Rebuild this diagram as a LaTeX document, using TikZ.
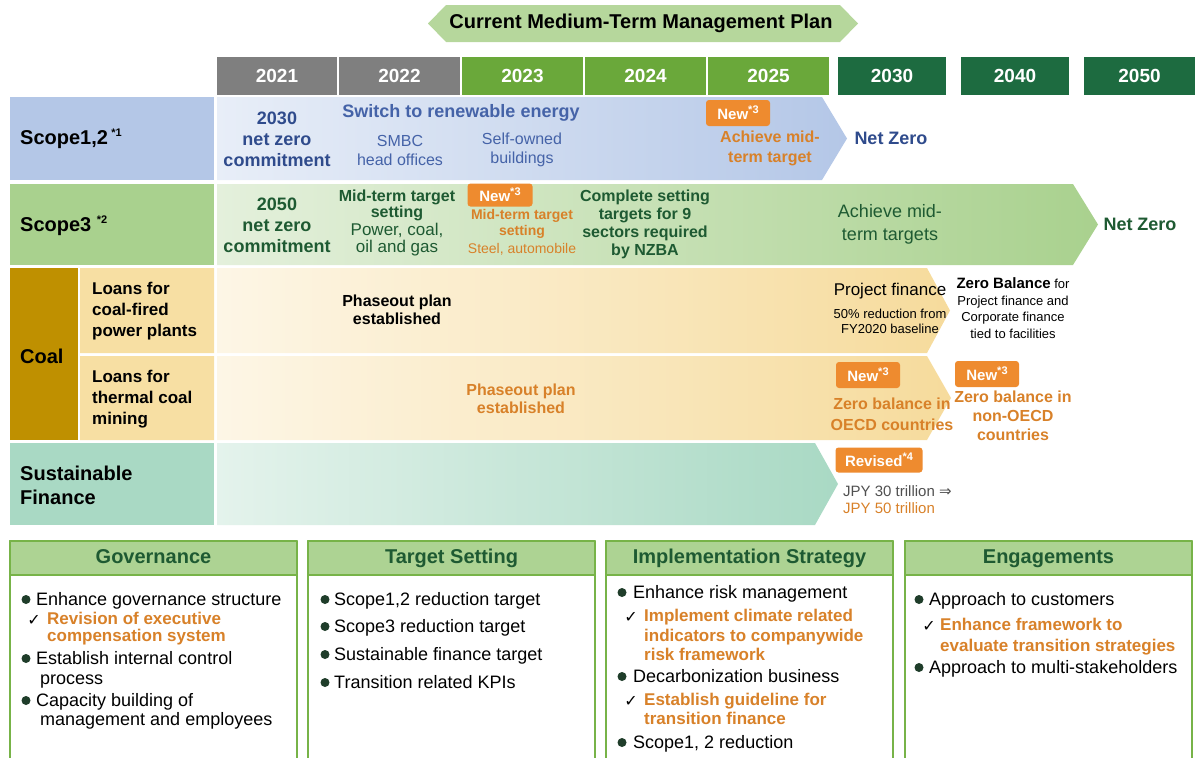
\documentclass[tikz,border=0pt]{standalone}
\usepackage{fontspec}
\setmainfont{Liberation Sans}
\newfontfamily\symfont{DejaVu Sans}
\usetikzlibrary{positioning}

\definecolor{yrgray}{HTML}{7F7F7F}
\definecolor{yrlight}{HTML}{6AA83A}
\definecolor{yrdark}{HTML}{1D6B40}
\definecolor{bannergreen}{HTML}{B6D79C}
\definecolor{bluelab}{HTML}{B4C7E7}
\definecolor{bluepale}{HTML}{E8EEF8}
\definecolor{bluetxt}{HTML}{2F4B8C}
\definecolor{bluemid}{HTML}{4563A8}
\definecolor{greenlab}{HTML}{A9D18E}
\definecolor{greenpale}{HTML}{E4F0DC}
\definecolor{greentxt}{HTML}{1E5A32}
\definecolor{coaldark}{HTML}{BF9000}
\definecolor{coallab}{HTML}{F7DFA3}
\definecolor{coalpale}{HTML}{FDF6E6}
\definecolor{coalarrow}{HTML}{F6DB9C}
\definecolor{sflab}{HTML}{A9D9C4}
\definecolor{sfpale}{HTML}{E4F3EC}
\definecolor{orangetxt}{HTML}{D88129}
\definecolor{orangebox}{HTML}{EE8B2F}
\definecolor{graytxt}{HTML}{505050}
\definecolor{boxline}{HTML}{77B348}
\definecolor{boxhead}{HTML}{ADD393}
\definecolor{bulletcol}{HTML}{1F3D2A}

\newcommand\fsz[2]{\fontsize{#1}{#2}\selectfont}
\newcommand\supr[1]{\raisebox{0.42em}{\fsz{11}{11}#1}}

\begin{document}
\begin{tikzpicture}[x=1pt, y=-1pt, line join=round, line cap=round, inner sep=0pt,
	yrbox/.style={minimum height=38, text=white, font=\fsz{19}{19}\bfseries},
	lab/.style={anchor=west, align=left, font=\fsz{20}{24}\bfseries},
	sublab/.style={anchor=west, align=left, font=\fsz{17}{21}\bfseries},
	badge/.style={fill=orangebox, rounded corners=3, text=white, font=\fsz{15}{15}\bfseries},
	txt/.style={align=center},
	hd/.style={font=\fsz{20}{20}\bfseries, text=greentxt, text height=14.5, text depth=4},
	itm/.style={anchor=west, font=\fsz{18}{18}, text height=13, text depth=4},
	itm2/.style={itm, xshift=4},
	sub/.style={anchor=west, font=\fsz{17}{17}\bfseries, text=orangetxt, xshift=11, text height=12.5, text depth=3.8},
	chk/.style={font=\symfont\fsz{16}{16}}]
	\useasboundingbox (0,0) rectangle (1195,758);
	
	% plan banner and years
	\fill[bannergreen] (428,23.5) -- (446,5) -- (840,5) -- (858,23.5) -- (840,42) -- (446,42) -- cycle;
	\node[font=\fsz{20}{20}\bfseries] (plan) at (641,23.5) {Current Medium-Term Management Plan};
	\foreach \yr/\cx/\w/\c in {2021/277/120/yrgray, 2022/399.5/121/yrgray, 2023/522.5/121/yrlight, 2024/645.5/121/yrlight, 2025/768.5/121/yrlight, 2030/892/108/yrdark, 2040/1015/108/yrdark, 2050/1139.5/111/yrdark}{
		\node[yrbox, fill=\c, minimum width=\w] (y\yr) at (\cx,76) {\yr};
	}
	
	% row labels
	\fill[bluelab] (10,97) rectangle (214,180);
	\fill[greenlab] (10,184) rectangle (214,265);
	\fill[coaldark] (10,268) rectangle (78,440);
	\fill[coallab] (80,268) rectangle (214,353) (80,356) rectangle (214,440);
	\fill[sflab] (10,443) rectangle (214,525);
	\node[lab] (l12) at (20,139) {Scope1,2\,\supr{*1}};
	\node[lab] (l3) at (20,226) {Scope3 \supr{*2}};
	\node[lab] (lcoal) at (20,356) {Coal};
	\node[sublab] (lpow) at (92,311) {Loans for\\coal-fired\\power plants};
	\node[sublab] (lmin) at (92,399) {Loans for\\thermal coal\\mining};
	\node[lab] (lsf) at (20,485) {Sustainable\\Finance};
	
	% row arrows
	\shade[left color=bluepale, right color=bluelab] (217,97) -- (822,97) -- (847,138.5) -- (822,180) -- (217,180) -- cycle;
	\shade[left color=greenpale, right color=greenlab] (217,184) -- (1073,184) -- (1098,224.5) -- (1073,265) -- (217,265) -- cycle;
	\shade[left color=coalpale, right color=coalarrow] (217,268) -- (927,268) -- (950,310.5) -- (927,353) -- (217,353) -- cycle;
	\shade[left color=coalpale, right color=coalarrow] (217,356) -- (927,356) -- (951,398) -- (927,440) -- (217,440) -- cycle;
	\shade[left color=sfpale, right color=sflab] (217,443) -- (815,443) -- (838,484) -- (815,525) -- (217,525) -- cycle;
	
	% scope1,2
	\node[txt, text=bluetxt, font=\fsz{18}{21}\bfseries] (s12com) at (277,139) {2030\\net zero\\commitment};
	\node[text=bluemid, font=\fsz{18}{18}\bfseries] (s12sw) at (461,113) {Switch to renewable energy};
	\node[txt, text=bluemid, font=\fsz{16}{19}] (s12smbc) at (400,150) {SMBC\\head offices};
	\node[txt, text=bluemid, font=\fsz{16}{19}] (s12own) at (522,150) {Self-owned\\buildings};
	\node[badge, minimum width=64, minimum height=26] (s12new) at (738,113) {New\supr{*3}};
	\node[txt, text=orangetxt, font=\fsz{16}{20}\bfseries] (s12mid) at (770,148) {Achieve mid-\\term target};
	\node[text=bluetxt, font=\fsz{18}{18}\bfseries] (s12nz) at (891,138) {Net Zero};
	
	% scope3
	\node[txt, text=greentxt, font=\fsz{18}{21}\bfseries] (s3com) at (277,225) {2050\\net zero\\commitment};
	\node[txt, text=greentxt, font=\fsz{16}{16}\bfseries] (s3mid) at (397,205) {Mid-term target\\setting};
	\node[txt, text=greentxt, font=\fsz{17}{17}] (s3pow) at (397,240) {Power, coal,\\oil and gas};
	\node[badge, minimum width=65, minimum height=23] (s3new) at (500,195) {New\supr{*3}};
	\node[txt, text=orangetxt, font=\fsz{14}{16}\bfseries] (s3mid2) at (522,224) {Mid-term target\\setting};
	\node[text=orangetxt, font=\fsz{14}{14}] (s3steel) at (522,249) {Steel, automobile};
	\node[txt, text=greentxt, font=\fsz{16}{18}\bfseries] (s3nzba) at (645,224) {Complete setting\\targets for 9\\sectors required\\by NZBA};
	\node[txt, text=greentxt, font=\fsz{18}{23}] (s3ach) at (890,224) {Achieve mid-\\term targets};
	\node[text=greentxt, font=\fsz{18}{18}\bfseries] (s3nz) at (1140,224) {Net Zero};
	
	% coal
	\node[txt, font=\fsz{16}{18}\bfseries] (c1ph) at (397,310) {Phaseout plan\\established};
	\node[font=\fsz{17}{17}] (c1pf) at (890,291) {Project finance};
	\node[txt, font=\fsz{13}{15}] (c1red) at (890,321) {50\% reduction from\\FY2020 baseline};
	\node[txt, font=\fsz{13}{16.5}] (c1zb) at (1013,308) {{\fsz{15}{16.5}\bfseries Zero Balance} for\\Project finance and\\Corporate finance\\tied to facilities};
	\node[txt, text=orangetxt, font=\fsz{16}{18}\bfseries] (c2ph) at (521,399) {Phaseout plan\\established};
	\node[badge, minimum width=64, minimum height=26] (c2new1) at (868,375) {New\supr{*3}};
	\node[txt, text=orangetxt, font=\fsz{16}{21}\bfseries] (c2oecd) at (892,414) {Zero balance in\\OECD countries};
	\node[badge, minimum width=64, minimum height=26] (c2new2) at (987,374) {New\supr{*3}};
	\node[txt, text=orangetxt, font=\fsz{16}{19}\bfseries] (c2non) at (1013,416) {Zero balance in\\non-OECD\\countries};
	
	% sustainable finance
	\node[badge, minimum width=87, minimum height=25] (sfrev) at (879,460) {Revised\supr{*4}};
	\node[anchor=west, text=graytxt, font=\fsz{15}{15}] (sf30) at (843,491) {JPY 30 trillion {\symfont ⇒}};
	\node[anchor=west, text=orangetxt, font=\fsz{15}{15}] (sf50) at (843,508) {JPY 50 trillion};
	
	% bottom boxes
	\foreach \xa/\t [count=\i] in {10/Governance, 308/Target Setting, 606/Implementation Strategy, 905/Engagements}{
		\draw[boxline, line width=2, fill=white] (\xa,541) rectangle ++(287,230);
		\filldraw[boxline, fill=boxhead, line width=2] (\xa,541) rectangle ++(287,34);
		\node[hd] (hd\i) at (\xa+143.5,558) {\t};
	}
	
	\foreach \s/\y/\t [count=\i] in {itm/601/{Enhance governance structure}, sub/620/{Revision of executive}, sub/637/{compensation system}, itm/660/{Establish internal control}, itm2/680/process, itm/702/{Capacity building of}, itm2/721/{management and employees}}{
		\node[\s] (gov\i) at (36,\y) {\t};
	}
	\foreach \y in {601,660,702} \fill[bulletcol] (26,\y-1.5) circle (4.5);
	\node[chk] (govc) at (34,620) {✓};
	
	\foreach \y/\t [count=\i] in {601/{Scope1,2 reduction target}, 628/{Scope3 reduction target}, 656/{Sustainable finance target}, 684/{Transition related KPIs}}{
		\node[itm] (ts\i) at (334,\y) {\t};
		\fill[bulletcol] (325,\y-1.5) circle (4.5);
	}
	
	\foreach \s/\y/\t [count=\i] in {itm/594/{Enhance risk management}, sub/617/{Implement climate related}, sub/637/{indicators to companywide}, sub/656/{risk framework}, itm/678/{Decarbonization business}, sub/701/{Establish guideline for}, sub/720/{transition finance}, itm/744/{Scope1, 2 reduction}}{
		\node[\s] (imp\i) at (633,\y) {\t};
	}
	\foreach \y in {594,678,744} \fill[bulletcol] (622,\y-1.5) circle (4.5);
	\node[chk] (impc1) at (631,617) {✓};
	\node[chk] (impc2) at (631,701) {✓};
	
	\foreach \s/\y/\t [count=\i] in {itm/601/{Approach to customers}, sub/626/{Enhance framework to}, sub/647/{evaluate transition strategies}, itm/669/{Approach to multi-stakeholders}}{
		\node[\s] (eng\i) at (929,\y) {\t};
	}
	\foreach \y in {601,669} \fill[bulletcol] (919,\y-1.5) circle (4.5);
	\node[chk] (engc) at (929,626) {✓};
\end{tikzpicture}
\end{document}
